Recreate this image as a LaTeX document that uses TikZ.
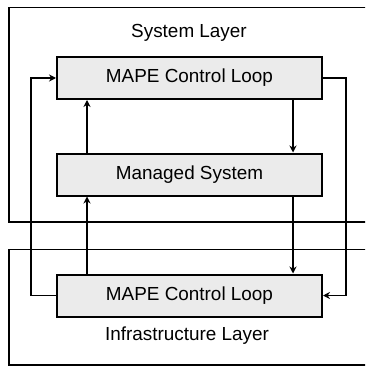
\documentclass[tikz,border=0pt]{standalone}
\usepackage{fontspec}
\setmainfont{Liberation Sans}
\usetikzlibrary{arrows.meta}
\definecolor{boxfill}{HTML}{EBEBEB}
\tikzset{
  x=1pt, y=-1pt,
  layerframe/.style={draw=black, line width=1.8pt},
  loopbox/.style={draw=black, line width=2pt, fill=boxfill,
    minimum width=265pt, minimum height=42pt, inner sep=0pt,
    font=\fontsize{18.9}{20}\selectfont},
  caption/.style={font=\fontsize{18.9}{20}\selectfont, inner sep=0pt},
  flow/.style={draw=black, line width=1.2pt, -{Stealth[length=7pt,width=7pt]}},
}
\begin{document}
\begin{tikzpicture}
\clip (0,0) rectangle (365,366);
\fill[white] (0,0) rectangle (365,366);

% layer frames (open to the right)
\draw[layerframe] (9,7.5) rectangle (385,222);
\draw[layerframe] (9,249.5) rectangle (385,364.8);

\node[caption] (systitle) at (189,33) {System Layer};
\node[caption] (infratitle) at (187,336) {Infrastructure Layer};

\node[loopbox] (mapeT) at (189.5,78) {MAPE Control Loop};
\node[loopbox] (ms) at (189.5,174.5) {Managed System};
\node[loopbox] (mapeB) at (189.5,295.5) {MAPE Control Loop};

\coordinate (xl) at (87,0);
\coordinate (xr) at (293,0);

% vertical links between the boxes
\draw[flow] (ms.north -| xl) -- (mapeT.south -| xl);
\draw[flow] (mapeB.north -| xl) -- (ms.south -| xl);
\draw[flow] (mapeT.south -| xr) -- (ms.north -| xr);
\draw[flow] (ms.south -| xr) -- (mapeB.north -| xr);

% outer loops between the two control loops
\draw[flow] (mapeB.west) -- ++(-25,0) |- (mapeT.west);
\draw[flow] (mapeT.east) -- ++(23,0) |- (mapeB.east);
\end{tikzpicture}
\end{document}
